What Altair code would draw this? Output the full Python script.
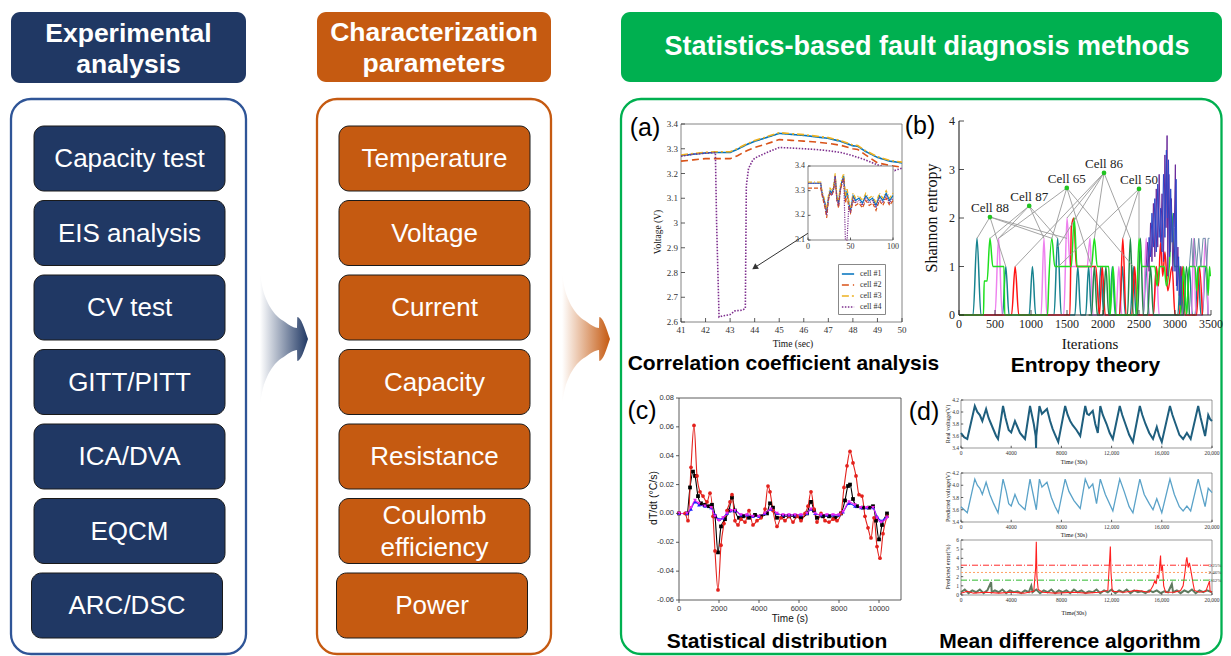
import altair as alt
import pandas as pd

W, H = 1215, 648
SANS = "Liberation Sans, Arial, Helvetica, sans-serif"
SERIF = "Liberation Serif, Times New Roman, serif"
NAVY, NAVY_EDGE, ORANGE, GREEN = "#203864", "#2f5597", "#c55a11", "#00b050"

# ======================= diagram text =======================
left_title = "Experimental\nanalysis"
mid_title = "Characterization\nparameters"
right_title = "Statistics-based fault diagnosis methods"
left_items = ["Capacity test", "EIS analysis", "CV test", "GITT/PITT", "ICA/DVA", "EQCM", "ARC/DSC"]
mid_items = ["Temperature", "Voltage", "Current", "Capacity", "Resistance", "Coulomb\nefficiency", "Power"]
captions = ["Correlation coefficient analysis", "Entropy theory", "Statistical distribution", "Mean difference algorithm"]
panel_tags = ["(a)", "(b)", "(c)", "(d)"]
axis_titles = [
    ("Time (sec)", 793, 344, "serif", 9.5, False),
    ("Voltage (V)", 658, 232, "serif", 9.5, True),
    ("Iterations", 1090, 344, "serif", 15, False),
    ("Shannon entropy", 932, 218, "serif", 16, True),
    ("Time (s)", 790, 619, "sans", 10, False),
    ("dT/dt (°C/s)", 654, 498, "sans", 10.5, True),
    ("Time (30s)", 1074, 462, "serif", 6, False),
    ("Real voltage(V)", 948, 424, "serif", 6, True),
    ("Time (30s)", 1074, 535, "serif", 6, False),
    ("Predicted voltage(V)", 948, 497, "serif", 6, True),
    ("Time(30s)", 1074, 613, "serif", 6, False),
    ("Predicted error(%)", 948, 567, "serif", 6, True),
]

# ======================= panel (a) =======================
a_cells = ["cell #1", "cell #2", "cell #3", "cell #4"]
a_colors = ["#0072bd", "#d95319", "#edb120", "#7e2f8e"]
a_dashes = [[1, 0], [7, 4], [7, 3, 2, 3], [1.5, 1.5]]
a_t = [41, 41.5, 42, 42.4, 42.5, 42.6, 43, 43.3, 43.6, 43.7, 43.8, 44, 44.5, 45, 45.5, 46, 46.5, 47, 47.5, 48, 48.2, 48.5, 49, 49.5, 50]
a_c1 = [3.272, 3.278, 3.283, 3.285, 3.285, 3.285, 3.285, 3.298, 3.313, 3.318, 3.322, 3.33, 3.346, 3.362, 3.358, 3.354, 3.348, 3.342, 3.33, 3.312, 3.31, 3.29, 3.265, 3.25, 3.243]
a_c2 = [3.25, 3.255, 3.26, 3.26, 3.26, 3.26, 3.26, 3.272, 3.288, 3.293, 3.297, 3.305, 3.32, 3.337, 3.334, 3.331, 3.327, 3.322, 3.314, 3.3, 3.297, 3.276, 3.243, 3.233, 3.225]
a_c3 = [3.275, 3.281, 3.286, 3.288, 3.288, 3.288, 3.288, 3.301, 3.316, 3.321, 3.325, 3.333, 3.349, 3.365, 3.361, 3.357, 3.351, 3.345, 3.333, 3.315, 3.313, 3.293, 3.268, 3.253, 3.246]
a_t4 = [41, 41.5, 42, 42.4, 42.45, 42.55, 42.7, 43, 43.2, 43.5, 43.62, 43.66, 43.75, 43.9, 44, 44.5, 45, 45.5, 46, 46.5, 47, 47.5, 48, 48.5, 49, 49.5, 49.7, 50]
a_c4 = [3.27, 3.278, 3.282, 3.285, 3.0, 2.62, 2.625, 2.63, 2.645, 2.648, 2.655, 3.15, 3.22, 3.25, 3.262, 3.285, 3.305, 3.303, 3.3, 3.297, 3.292, 3.285, 3.272, 3.255, 3.235, 3.22, 3.212, 3.222]
a_xticks = [41, 42, 43, 44, 45, 46, 47, 48, 49, 50]
a_xlabels = ["41", "42", "43", "44", "45", "46", "47", "48", "49", "50"]
a_yticks = [2.6, 2.7, 2.8, 2.9, 3.0, 3.1, 3.2, 3.3, 3.4]
a_ylabels = ["2.6", "2.7", "2.8", "2.9", "3", "3.1", "3.2", "3.3", "3.4"]
in_t = [0, 5, 10, 15, 16, 18, 20, 22, 24, 26, 28, 30, 32, 34, 36, 38, 40, 42, 44, 46, 48, 50, 53, 56, 60, 64, 68, 72, 76, 80, 84, 88, 92, 96, 100]
in_c1 = [3.33, 3.33, 3.33, 3.33, 3.30, 3.27, 3.25, 3.21, 3.27, 3.30, 3.29, 3.31, 3.36, 3.27, 3.25, 3.31, 3.34, 3.36, 3.27, 3.30, 3.25, 3.22, 3.28, 3.26, 3.27, 3.25, 3.28, 3.26, 3.27, 3.24, 3.28, 3.26, 3.29, 3.26, 3.28]
in_c2 = [3.31, 3.31, 3.31, 3.31, 3.29, 3.26, 3.23, 3.19, 3.26, 3.29, 3.28, 3.30, 3.35, 3.26, 3.23, 3.30, 3.33, 3.35, 3.25, 3.28, 3.23, 3.21, 3.26, 3.24, 3.25, 3.23, 3.26, 3.24, 3.25, 3.22, 3.26, 3.24, 3.27, 3.24, 3.26]
in_c3 = [3.335, 3.335, 3.335, 3.335, 3.31, 3.28, 3.26, 3.22, 3.28, 3.31, 3.30, 3.32, 3.37, 3.28, 3.26, 3.32, 3.35, 3.37, 3.28, 3.31, 3.26, 3.23, 3.29, 3.27, 3.28, 3.26, 3.29, 3.27, 3.28, 3.25, 3.29, 3.27, 3.30, 3.27, 3.29]
in_c4 = [3.33, 3.33, 3.33, 3.33, 3.30, 3.27, 3.24, 3.20, 3.27, 3.29, 3.28, 3.30, 3.36, 3.26, 3.24, 3.30, 3.33, 3.35, 3.10, 3.10, 3.24, 3.21, 3.27, 3.25, 3.26, 3.24, 3.27, 3.25, 3.26, 3.23, 3.27, 3.25, 3.28, 3.25, 3.27]
in_xticks, in_xlabels = [0, 50, 100], ["0", "50", "100"]
in_yticks, in_ylabels = [3.1, 3.2, 3.3, 3.4], ["3.1", "3.2", "3.3", "3.4"]
a_arrow = {"t0": 47.6, "v0": 3.05, "t1": 44.0, "v1": 2.82}

# ======================= panel (b) =======================
b_teal = [(0, 0), (195, 0), (250, 1.58), (305, 0), (605, 0), (650, 1.0), (695, 0), (975, 0), (1020, 1.0), (1065, 0),
          (1320, 0), (1370, 1.58), (1420, 0), (1610, 0), (1650, 1.0), (1690, 0), (1760, 0), (1800, 1.0), (1840, 0),
          (1930, 0), (1970, 1.0), (2010, 0), (2090, 0), (2130, 1.0), (2170, 0), (2230, 0), (2270, 1.0), (2310, 0),
          (2380, 0), (2420, 1.0), (2460, 0), (2560, 0), (2600, 1.0), (2640, 0), (3040, 0), (3080, 1.0), (3120, 0),
          (3160, 0), (3200, 1.0), (3240, 0), (3280, 0), (3320, 1.0), (3360, 0), (3380, 0), (3420, 1.0), (3460, 0)]
b_green = [(0, 0), (340, 0), (350, 0.7), (390, 0.7), (430, 1.58), (470, 1.0), (625, 1.0), (635, 0), (1230, 0),
           (1245, 0.6), (1290, 1.58), (1330, 1.0), (1560, 1.0), (1600, 2.0), (1640, 1.0), (1840, 1.0), (1880, 1.58),
           (1920, 1.0), (2080, 1.0), (2100, 0), (2140, 1.0), (2180, 0), (2460, 0), (2500, 1.58), (2540, 1.0),
           (2720, 1.0), (2750, 0.6), (2790, 1.0), (2850, 1.0), (2880, 0.6), (2920, 1.0), (2960, 2.1), (2990, 1.0),
           (3060, 1.0), (3080, 0), (3120, 1.0), (3160, 0), (3200, 1.0), (3280, 1.0), (3300, 0.5), (3330, 1.0),
           (3440, 1.0), (3460, 0.4), (3480, 1.0), (3490, 0.8)]
b_violet = [(0, 0), (500, 0), (550, 1.58), (600, 0), (1140, 0), (1180, 1.58), (1220, 0), (1455, 0), (1500, 2.0),
            (1545, 1.0), (1780, 1.0), (1820, 1.58), (1860, 0), (2180, 0), (2220, 1.0), (2260, 0), (2560, 0),
            (2600, 1.58), (2640, 0), (2700, 0), (2740, 1.0), (2780, 0), (3230, 0), (3260, 1.58), (3290, 0),
            (3380, 0), (3420, 1.58), (3460, 0)]
b_red = [(0, 0), (730, 0), (780, 1.0), (830, 0), (1540, 0), (1560, 1.8), (1595, 2.0), (1630, 1.0), (1900, 1.0),
         (1950, 0), (1990, 1.0), (2030, 0), (2230, 0), (2275, 1.58), (2320, 0), (2400, 0), (2440, 1.0), (2480, 0),
         (2700, 0), (2740, 1.0), (2770, 0.6), (2800, 1.5), (2830, 0.8), (2860, 1.3), (2900, 0.5), (2960, 1.0),
         (3000, 0), (3060, 0), (3100, 1.0), (3140, 0), (3300, 0), (3340, 1.0), (3380, 0)]
b_dkgreen = [(1800, 0), (1840, 0), (1880, 1.0), (1920, 0), (2000, 0), (2040, 1.0), (2080, 0), (2340, 0), (2380, 1.58),
             (2420, 0), (2480, 0), (2520, 1.58), (2560, 0), (2620, 0), (2660, 1.0), (2700, 0), (3120, 0), (3160, 1.0),
             (3200, 0)]
b_purple = [(2600, 1.0), (2620, 1.5), (2640, 0.9), (2660, 1.9), (2680, 1.1), (2700, 2.3), (2720, 1.2), (2740, 2.6),
            (2760, 1.4), (2780, 2.9), (2800, 1.5), (2820, 2.5), (2840, 1.1), (2860, 3.3), (2875, 1.8), (2890, 3.7),
            (2900, 0.8), (2915, 2.9), (2930, 1.3), (2950, 2.4), (2970, 0.9), (2990, 1.8), (3005, 3.1), (3020, 0.6),
            (3040, 1.4), (3060, 0.4), (3080, 1.0), (3100, 0.0)]
b_blue = [(2620, 1.0), (2640, 1.6), (2660, 1.2), (2680, 2.1), (2700, 1.4), (2720, 2.4), (2740, 1.3), (2760, 2.7),
          (2780, 1.6), (2800, 2.2), (2820, 1.3), (2840, 2.9), (2860, 1.6), (2880, 3.4), (2895, 2.0), (2910, 3.2),
          (2925, 1.2), (2940, 2.6), (2960, 1.5), (2980, 2.1), (3000, 0.9), (3015, 2.8), (3030, 0.5), (3050, 1.2),
          (3070, 0.2), (3090, 0.8)]
b_steel = [(3200, 1.0), (3230, 1.58), (3250, 1.0), (3270, 1.58), (3300, 1.0), (3330, 1.58), (3360, 1.0),
           (3390, 1.58), (3420, 1.58), (3440, 1.0), (3460, 1.58), (3480, 1.58)]
b_cells = [("Cell 88", 430, 2.02), ("Cell 87", 975, 2.25), ("Cell 65", 1497, 2.62), ("Cell 86", 2014, 2.93), ("Cell 50", 2500, 2.6)]
b_links = [("Cell 88", 250, 1.58), ("Cell 88", 650, 1.0), ("Cell 88", 1290, 1.58), ("Cell 88", 1500, 1.58),
           ("Cell 87", 430, 1.58), ("Cell 87", 550, 1.58), ("Cell 87", 1180, 1.58), ("Cell 87", 1370, 1.58),
           ("Cell 65", 550, 1.58), ("Cell 65", 1290, 1.58), ("Cell 65", 1840, 1.0), ("Cell 65", 2420, 1.0),
           ("Cell 86", 780, 1.0), ("Cell 86", 1370, 1.4), ("Cell 86", 1500, 2.0), ("Cell 86", 1880, 1.58), ("Cell 86", 2380, 1.58),
           ("Cell 50", 1380, 1.0), ("Cell 50", 2275, 1.58), ("Cell 50", 2500, 1.58)]
b_xticks = [0, 500, 1000, 1500, 2000, 2500, 3000, 3500]
b_xlabels = ["0", "500", "1000", "1500", "2000", "2500", "3000", "3500"]
b_yticks, b_ylabels = [0, 1, 2, 3, 4], ["0", "1", "2", "3", "4"]

# ======================= panel (c) =======================
c_cells = ["cell1", "cell2", "cell3", "cell4"]
c_colors = ["#000000", "#e3211c", "#1f1fff", "#ee22ee"]
c_shapes = ["square", "circle", "triangle-up", "triangle-down"]
c_t1 = [0, 400, 550, 700, 800, 950, 1100, 1300, 1500, 1650, 1800, 1950, 2100, 2300, 2500, 2650, 2800, 3000, 3200, 3500,
        3800, 4100, 4400, 4550, 4700, 4900, 5200, 5500, 5800, 6100, 6400, 6600, 6750, 6900, 7200, 7500, 7800, 8100, 8300, 8450,
        8550, 8700, 8900, 9200, 9500, 9700, 9850, 10000, 10150, 10400]
c_v1 = [0, 0, 0.018, 0.029, 0.026, 0.012, 0.007, 0.006, 0.005, 0.006, -0.002, -0.027, -0.009, -0.004, 0.002, 0.011, 0.002, -0.003, -0.002, -0.003,
        -0.001, -0.002, 0.0, 0.007, 0.004, -0.003, -0.002, -0.002, -0.002, -0.003, 0.0, 0.008, 0.002, -0.003, -0.002, -0.002, -0.003, 0.0, 0.009, 0.019,
        0.02, 0.01, 0.005, 0.004, 0.004, 0.005, -0.005, -0.018, -0.008, 0.0]
c_t2 = [0, 300, 450, 600, 750, 900, 1050, 1200, 1400, 1550, 1700, 1800, 1950, 2100, 2250, 2400, 2550, 2650, 2800, 2950,
        3100, 3300, 3500, 3700, 3900, 4100, 4300, 4450, 4550, 4700, 4900, 5100, 5300, 5500, 5700, 5900, 6100, 6300, 6450, 6600,
        6750, 6900, 7100, 7300, 7500, 7700, 7900, 8100, 8250, 8400, 8550, 8700, 8850, 9000, 9150, 9300, 9450, 9600, 9750, 9900,
        10050, 10200, 10400]
c_v2 = [0, 0, -0.005, 0.032, 0.061, 0.026, 0.015, 0.012, 0.008, 0.014, -0.002, -0.026, -0.053, -0.022, -0.007, 0.002, 0.008, 0.013, -0.005, -0.008,
        -0.004, -0.006, 0.002, -0.008, -0.005, -0.003, 0.003, 0.019, 0.015, 0.002, -0.009, -0.003, -0.005, -0.002, -0.006, -0.002, -0.005, 0.0, 0.005, 0.015,
        0.003, -0.006, 0.0, -0.005, -0.006, -0.004, -0.005, 0.0, 0.018, 0.033, 0.043, 0.035, 0.026, 0.013, 0.012, -0.002, -0.01, -0.017, -0.003, -0.023,
        -0.031, -0.014, -0.002]
c_t34 = [0, 400, 600, 800, 1000, 1300, 1600, 1800, 2000, 2200, 2400, 2600, 2800, 3100, 3400, 3700, 4000, 4300, 4600, 4900,
         5200, 5500, 5800, 6100, 6400, 6600, 6800, 7100, 7400, 7700, 8000, 8200, 8500, 8800, 9100, 9400, 9700, 9900, 10100, 10400]
c_v3 = [0, 0, 0.003, 0.008, 0.006, 0.005, 0.004, -0.001, -0.004, -0.003, 0.0, 0.002, 0.002, -0.001, -0.001, -0.002, -0.002, 0.0, 0.003, 0.0,
        -0.001, -0.001, -0.001, -0.001, 0.0, 0.003, 0.0, -0.001, -0.001, -0.001, -0.001, 0.001, 0.007, 0.005, 0.004, 0.004, 0.004, -0.002, -0.005, -0.002]
c_v4 = [0, 0, 0.004, 0.009, 0.007, 0.005, 0.004, -0.002, -0.005, -0.003, 0.0, 0.002, 0.002, -0.001, -0.001, -0.002, -0.002, 0.0, 0.003, 0.0,
        -0.001, -0.001, -0.001, -0.001, 0.0, 0.003, 0.0, -0.001, -0.001, -0.001, -0.001, 0.001, 0.008, 0.006, 0.004, 0.004, 0.004, -0.003, -0.006, -0.003]
c_xticks = [0, 2000, 4000, 6000, 8000, 10000]
c_xlabels = ["0", "2000", "4000", "6000", "8000", "10000"]
c_yticks = [-0.06, -0.04, -0.02, 0.0, 0.02, 0.04, 0.06, 0.08]
c_ylabels = ["-0.06", "-0.04", "-0.02", "0.00", "0.02", "0.04", "0.06", "0.08"]

# ======================= panel (d) =======================
d_real = [(0, 3.65), (250, 3.58), (500, 3.55), (1100, 4.1), (1300, 4.0), (1500, 3.95), (1700, 3.85), (2000, 4.05), (2200, 3.9),
          (2400, 3.8), (2600, 3.7), (2800, 3.6), (2950, 3.55), (3350, 4.1), (3550, 3.9), (3800, 3.7), (4000, 3.66), (4300, 3.85),
          (4500, 3.75), (4700, 3.65), (4900, 3.6), (5100, 3.55), (5500, 4.1), (5650, 3.95), (5800, 3.8), (5950, 3.6), (5980, 3.4),
          (6000, 3.6), (6250, 4.1), (6450, 3.97), (6600, 4.0), (6850, 4.05), (7100, 3.85), (7300, 3.72), (7500, 3.62), (7750, 3.5),
          (8300, 4.1), (8500, 3.95), (8700, 3.85), (8900, 3.78), (9200, 3.7), (9500, 3.6), (9900, 4.1), (10050, 3.97), (10200, 3.95),
          (10500, 4.02), (10700, 3.8), (10900, 3.65), (11100, 4.1), (11300, 3.95), (11600, 3.8), (11850, 3.65), (12100, 3.55),
          (12650, 4.1), (12850, 3.95), (13100, 3.8), (13400, 3.62), (13700, 3.5), (14250, 4.1), (14450, 3.95), (14700, 3.8),
          (15000, 3.65), (15300, 3.55), (15600, 3.75), (15800, 3.6), (16000, 3.5), (16650, 4.1), (16850, 3.95), (17100, 3.8),
          (17400, 3.62), (17700, 3.55), (18000, 3.65), (18300, 3.55), (18900, 4.1), (19100, 3.9), (19450, 3.6), (19700, 3.95),
          (19850, 3.88), (20000, 3.85)]
d_pred = [(0, 3.65), (250, 3.6), (500, 3.55), (1100, 4.1), (1300, 4.0), (1500, 3.95), (1700, 3.85), (2000, 4.05), (2300, 3.85),
          (2600, 3.7), (2950, 3.55), (3350, 4.1), (3600, 3.9), (3800, 3.7), (4000, 3.66), (4300, 3.85), (4600, 3.7), (5100, 3.6),
          (5500, 4.1), (5800, 3.8), (5950, 3.65), (6000, 3.6), (6250, 4.1), (6450, 3.97), (6600, 4.0), (6850, 4.05), (7200, 3.8),
          (7500, 3.65), (7750, 3.55), (8300, 4.1), (8600, 3.9), (9000, 3.75), (9500, 3.62), (9900, 4.1), (10200, 3.95), (10500, 4.02),
          (10800, 3.7), (11100, 4.1), (11500, 3.85), (12100, 3.58), (12650, 4.1), (13000, 3.9), (13400, 3.65), (13700, 3.55),
          (14250, 4.1), (14600, 3.85), (15000, 3.7), (15300, 3.6), (15600, 3.78), (16000, 3.55), (16650, 4.1), (17000, 3.85),
          (17400, 3.65), (17700, 3.58), (18000, 3.66), (18300, 3.58), (18900, 4.1), (19200, 3.85), (19450, 3.65), (19700, 3.95),
          (20000, 3.88)]
d_err_base = [(0, 0.3), (300, 0.6), (600, 0.2), (900, 0.5), (1200, 0.3), (1500, 0.6), (1800, 0.2), (2100, 0.5), (2400, 1.4),
              (2450, 0.3), (2700, 0.5), (3000, 0.3), (3300, 0.6), (3600, 0.2), (3900, 0.5), (4200, 0.3), (4500, 0.4), (4800, 0.2),
              (5100, 0.5), (5400, 0.3), (5600, 1.0), (5700, 0.3), (6000, 0.6), (6300, 0.2), (6600, 0.5), (6900, 0.3), (7200, 0.6),
              (7500, 0.2), (7800, 0.5), (8100, 0.3), (8400, 0.5), (8700, 0.2), (9000, 0.6), (9300, 0.3), (9600, 0.5), (9900, 0.2),
              (10200, 0.4), (10500, 0.3), (10800, 0.6), (11100, 0.2), (11400, 0.5), (11700, 0.3), (12000, 0.6), (12300, 0.2),
              (12600, 0.5), (12900, 0.3), (13200, 0.6), (13500, 0.2), (13800, 0.5), (14100, 0.3), (14400, 0.4), (14700, 0.2),
              (15000, 0.5), (15300, 0.3), (15600, 0.5), (15900, 0.2), (16200, 0.4), (16500, 0.3), (16800, 1.2), (16900, 0.3),
              (17200, 0.5), (17500, 0.2), (17800, 0.5), (18100, 0.3), (18400, 0.6), (18700, 0.2), (19000, 0.5), (19300, 0.3),
              (19600, 0.5), (20000, 0.3)]
d_err_red = [(0, 0.2), (500, 0.4), (1000, 0.2), (2000, 0.3), (3000, 0.2), (4000, 0.3), (5000, 0.2), (5800, 0.4), (5950, 3.0),
             (6000, 5.8), (6050, 2.0), (6150, 0.6), (6500, 0.3), (7500, 0.2), (9000, 0.3), (10000, 0.2), (11000, 0.3),
             (11700, 0.5), (11850, 4.0), (11900, 5.3), (11950, 2.5), (12050, 0.4), (13000, 0.3), (14000, 0.5), (15000, 0.3),
             (15300, 1.0), (15450, 1.6), (15550, 1.2), (15650, 2.2), (15750, 1.8), (15850, 3.5), (15900, 4.3), (15950, 2.6),
             (16050, 3.2), (16150, 1.0), (16300, 0.3), (17000, 0.3), (17500, 0.5), (17700, 1.0), (17850, 2.5), (17950, 3.8),
             (18000, 4.1), (18100, 3.0), (18200, 3.5), (18300, 2.8), (18400, 2.0), (18500, 1.2), (18600, 0.5), (19000, 0.3),
             (19500, 0.4), (19800, 1.5), (19850, 0.4), (20000, 0.3)]
d_limits = [3.25, 2.46, 1.62]
d_limit_labels = ["3.25%", "2.46%", "1.62%"]
d_limit_colors = ["#ff2a2a", "#ffa060", "#2db82d"]
d_limit_dash = [[6, 2, 1, 2], [2, 2], [6, 2, 1, 2]]
d_xticks = [0, 4000, 8000, 12000, 16000, 20000]
d_xlabels = ["0", "4000", "8000", "12,000", "16,000", "20,000"]
d_vticks, d_vlabels = [3.4, 3.6, 3.8, 4.0, 4.2], ["3.4", "3.6", "3.8", "4.0", "4.2"]
d_eticks, d_elabels = [0, 1, 2, 3, 4, 5, 6], ["0", "1", "2", "3", "4", "5", "6"]


# ======================= helpers =======================
def sc(domain, p0, p1):
    """Scale whose range is given in page pixels (chart origin is page pixel 8,8)."""
    return alt.Scale(domain=domain, range=[p0 - 8, p1 - 8], nice=False, zero=False)


def cxs():
    return sc([8, 1223], 8, 1223)


def cys():
    return sc([8, 656], 8, 656)


def frame(x0, x1, y0, y1, xs, ys, color="#444", width=0.8, fill=None):
    df = pd.DataFrame({"x1": [x0], "x2": [x1], "y1": [y0], "y2": [y1]})
    if fill:
        mk = dict(filled=True, fill=fill, stroke=color, strokeWidth=width)
    else:
        mk = dict(filled=False, stroke=color, strokeWidth=width)
    return alt.Chart(df).mark_rect(**mk).encode(
        x=alt.X("x1:Q", scale=xs, axis=None), x2="x2:Q",
        y=alt.Y("y1:Q", scale=ys, axis=None), y2="y2:Q")


def x_axis(vals, labels, xs, ys, ybase, font, fsize, tick_size, inward=True, gap=3, color="#222"):
    df = pd.DataFrame({"v": vals, "b": [ybase] * len(vals), "t": labels})
    enc = dict(x=alt.X("v:Q", scale=xs, axis=None), y=alt.Y("b:Q", scale=ys, axis=None))
    ticks = alt.Chart(df).mark_point(shape="M0,0V-1" if inward else "M0,0V1", filled=False, size=tick_size,
                                     color=color, strokeWidth=0.8, opacity=1).encode(**enc)
    labs = alt.Chart(df).mark_text(font=font, fontSize=fsize, baseline="top", dy=gap, color=color).encode(text="t:N", **enc)
    return [ticks, labs]


def y_axis(vals, labels, xs, ys, xbase, font, fsize, tick_size, inward=True, gap=3, color="#222"):
    df = pd.DataFrame({"v": vals, "b": [xbase] * len(vals), "t": labels})
    enc = dict(x=alt.X("b:Q", scale=xs, axis=None), y=alt.Y("v:Q", scale=ys, axis=None))
    ticks = alt.Chart(df).mark_point(shape="M0,0H1" if inward else "M0,0H-1", filled=False, size=tick_size,
                                     color=color, strokeWidth=0.8, opacity=1).encode(**enc)
    labs = alt.Chart(df).mark_text(font=font, fontSize=fsize, align="right", baseline="middle", dx=-gap,
                                   color=color).encode(text="t:N", **enc)
    return [ticks, labs]


def pairs_df(series):
    rows = []
    for name, col, pts in series:
        for x, y in pts:
            rows.append({"s": name, "c": col, "x": x, "y": y})
    return pd.DataFrame(rows)


# ======================= canvas (diagram) =======================
item_tops = [126, 200.5, 275, 349.5, 424, 498.5, 573]
box_rows = []
for i, (l, m) in enumerate(zip(left_items, mid_items)):
    top = item_tops[i]
    sh = 2.5 if i == len(left_items) - 1 else 0
    box_rows.append(dict(x1=34 - sh, x2=225 - sh, y1=top, y2=top + 65, c=NAVY, t=l, tx=129.5 - sh, ty=top + 33))
    m_ty = top + 17 if "\n" in m else top + 33
    box_rows.append(dict(x1=339 - sh, x2=530 - sh, y1=top, y2=top + 65, c=ORANGE, t=m, tx=434.5 - sh, ty=m_ty))
boxes_df = pd.DataFrame(box_rows)

title_df = pd.DataFrame([
    dict(x1=11, x2=246, y1=12, y2=83, c=NAVY, t=left_title, tx=128.5, ty=33.5, fs=26.5),
    dict(x1=317, x2=551, y1=12, y2=82, c=ORANGE, t=mid_title, tx=434, ty=32.5, fs=26.5),
    dict(x1=621, x2=1222, y1=12, y2=82, c=GREEN, t=right_title, tx=927, ty=47, fs=27),
])
frame_df = pd.DataFrame([
    dict(x1=11, x2=246, y1=99, y2=654, c=NAVY_EDGE),
    dict(x1=317, x2=551, y1=99, y2=654, c=ORANGE),
    dict(x1=621, x2=1221.5, y1=99, y2=654, c=GREEN),
])
caption_df = pd.DataFrame({"t": captions, "tx": [783.5, 1085.5, 777, 1070], "ty": [364, 366, 642, 642]})
tag_df = pd.DataFrame({"t": panel_tags, "tx": [645, 920, 642, 924], "ty": [128, 126, 411, 412]})
at_df = pd.DataFrame(axis_titles, columns=["t", "tx", "ty", "f", "fs", "rot"])


def rect_layer(df, **mk):
    return alt.Chart(df).mark_rect(**mk).encode(
        x=alt.X("x1:Q", scale=cxs(), axis=None), x2="x2:Q",
        y=alt.Y("y1:Q", scale=cys(), axis=None), y2="y2:Q",
        color=alt.Color("c:N", scale=None, legend=None))


def text_layer(df, **mk):
    return alt.Chart(df).mark_text(baseline="middle", align="center", lineBreak="\n", **mk).encode(
        x=alt.X("tx:Q", scale=cxs(), axis=None),
        y=alt.Y("ty:Q", scale=cys(), axis=None),
        text="t:N")


def axis_title_layer(font_key, font, rot):
    sub = at_df[(at_df["f"] == font_key) & (at_df["rot"] == rot)]
    mk = dict(font=font, color="#111")
    if rot:
        mk["angle"] = 270
    return text_layer(sub, **mk).encode(size=alt.Size("fs:Q", scale=None))


arrow_x = [260, 263, 267, 272, 278, 285, 291, 297, 297.3, 308]
arrow_top = [275, 290, 301, 310, 317, 322, 326, 328, 317, 339]
arrow_bot = [403, 388, 377, 368, 361, 356, 352, 350, 361, 339]


def arrow_layer(dx, col):
    df = pd.DataFrame({"x": [v + dx for v in arrow_x], "y": arrow_top, "y2": arrow_bot})
    grad = alt.LinearGradient(gradient="linear",
                              stops=[alt.GradientStop(color="#ffffff", offset=0),
                                     alt.GradientStop(color=col, offset=1)],
                              x1=0, x2=1, y1=0, y2=0)
    return alt.Chart(df).mark_area(color=grad, opacity=1, interpolate="monotone").encode(
        x=alt.X("x:Q", scale=cxs(), axis=None),
        y=alt.Y("y:Q", scale=cys(), axis=None), y2="y2:Q")


canvas = alt.layer(
    rect_layer(title_df, cornerRadius=9),
    rect_layer(frame_df, filled=False, strokeWidth=2.3, cornerRadius=20),
    rect_layer(boxes_df, cornerRadius=10, stroke="#1a1a1a", strokeWidth=1),
    text_layer(title_df, font=SANS, fontWeight="bold", color="white", lineHeight=31.5).encode(size=alt.Size("fs:Q", scale=None)),
    text_layer(boxes_df, font=SANS, fontSize=26, color="white", lineHeight=32),
    arrow_layer(0, NAVY),
    arrow_layer(302, ORANGE),
    text_layer(caption_df, font=SANS, fontSize=21, fontWeight="bold", color="black"),
    text_layer(tag_df, font=SANS, fontSize=25, color="black"),
    axis_title_layer("serif", SERIF, False),
    axis_title_layer("serif", SERIF, True),
    axis_title_layer("sans", SANS, False),
    axis_title_layer("sans", SANS, True),
)

# ======================= panel (a) =======================
A_X = sc([41, 50], 681, 902)
A_Y = sc([2.6, 3.4], 322, 124)
rows = []
for name, ts, vs in [("cell #1", a_t, a_c1), ("cell #2", a_t, a_c2), ("cell #3", a_t, a_c3), ("cell #4", a_t4, a_c4)]:
    for t, v in zip(ts, vs):
        rows.append({"s": name, "x": t, "y": v})
a_df = pd.DataFrame(rows)
leg_a = alt.Legend(orient="none", legendX=830, legendY=256, title=None, strokeColor="#888", fillColor="white",
                   padding=3, symbolType="stroke", symbolStrokeWidth=1.6, symbolSize=150, labelFont=SERIF,
                   labelFontSize=8, labelColor="#333", rowPadding=-1, labelOffset=5)
a_lines = alt.Chart(a_df).mark_line(strokeWidth=1.6).encode(
    x=alt.X("x:Q", scale=A_X, axis=None),
    y=alt.Y("y:Q", scale=A_Y, axis=None),
    color=alt.Color("s:N", scale=alt.Scale(domain=a_cells, range=a_colors), legend=leg_a),
    strokeDash=alt.StrokeDash("s:N", scale=alt.Scale(domain=a_cells, range=a_dashes), legend=leg_a),
)
arr_df = pd.DataFrame([a_arrow])
a_arrow_line = alt.Chart(arr_df).mark_rule(color="#333", strokeWidth=1).encode(
    x=alt.X("t0:Q", scale=A_X, axis=None), x2="t1:Q",
    y=alt.Y("v0:Q", scale=A_Y, axis=None), y2="v1:Q")
a_arrow_head = alt.Chart(arr_df).mark_point(shape="triangle-up", angle=236.6, filled=True, size=45,
                                            color="#333", opacity=1).encode(
    x=alt.X("t1:Q", scale=A_X, axis=None), y=alt.Y("v1:Q", scale=A_Y, axis=None))
panel_a = alt.layer(
    frame(41, 50, 2.6, 3.4, A_X, A_Y, color="#666"), a_lines, a_arrow_line, a_arrow_head,
    *x_axis(a_xticks, a_xlabels, A_X, A_Y, 2.6, SERIF, 9, 64, gap=4, color="#333"),
    *y_axis(a_yticks, a_ylabels, A_X, A_Y, 41, SERIF, 9, 64, gap=3, color="#333"),
)

IN_X = sc([0, 100], 808, 893)
IN_Y = sc([3.1, 3.4], 240, 166)
rows = []
for name, vs in [("cell #1", in_c1), ("cell #2", in_c2), ("cell #3", in_c3), ("cell #4", in_c4)]:
    for t, v in zip(in_t, vs):
        rows.append({"s": name, "x": t, "y": v})
in_df = pd.DataFrame(rows)
in_lines = alt.Chart(in_df).mark_line(strokeWidth=1.2).encode(
    x=alt.X("x:Q", scale=IN_X, axis=None),
    y=alt.Y("y:Q", scale=IN_Y, axis=None),
    color=alt.Color("s:N", scale=alt.Scale(domain=a_cells, range=a_colors), legend=None),
    strokeDash=alt.StrokeDash("s:N", scale=alt.Scale(domain=a_cells, range=[[1, 0], [4, 2], [4, 2, 1, 2], [1.2, 1.2]]), legend=None),
)
panel_a_inset = alt.layer(
    frame(0, 100, 3.1, 3.4, IN_X, IN_Y, color="#666", fill="white"), in_lines,
    *x_axis(in_xticks, in_xlabels, IN_X, IN_Y, 3.1, SERIF, 8, 25, gap=3, color="#333"),
    *y_axis(in_yticks, in_ylabels, IN_X, IN_Y, 0, SERIF, 8, 25, gap=3, color="#333"),
)

# ======================= panel (b) =======================
B_X = sc([0, 3500], 959, 1211)
B_Y = sc([0, 4], 315, 121)
hump_df = pairs_df([("teal", "#17838f", b_teal), ("violet", "#ee82ee", b_violet), ("red", "#ff1414", b_red),
                    ("dkgreen", "#23864a", b_dkgreen), ("green", "#1ee01e", b_green)])
noise_df = pairs_df([("steel", "#6f8fa8", b_steel), ("purple", "#6a2a9a", b_purple), ("blue", "#2a46c8", b_blue)])
b_humps = alt.Chart(hump_df).mark_line(strokeWidth=1.5, interpolate="monotone").encode(
    x=alt.X("x:Q", scale=B_X, axis=None), y=alt.Y("y:Q", scale=B_Y, axis=None),
    color=alt.Color("c:N", scale=None, legend=None), detail="s:N")
b_noise = alt.Chart(noise_df).mark_line(strokeWidth=1.0).encode(
    x=alt.X("x:Q", scale=B_X, axis=None), y=alt.Y("y:Q", scale=B_Y, axis=None),
    color=alt.Color("c:N", scale=None, legend=None), detail="s:N")
cell_pos = {n: (x, y) for n, x, y in b_cells}
link_df = pd.DataFrame([{"x0": cell_pos[n][0], "y0": cell_pos[n][1], "x1": x, "y1": y} for n, x, y in b_links])
cells_df = pd.DataFrame(b_cells, columns=["t", "x", "y"])
b_link = alt.Chart(link_df).mark_rule(color="#9a9a9a", strokeWidth=0.9).encode(
    x=alt.X("x0:Q", scale=B_X, axis=None), x2="x1:Q",
    y=alt.Y("y0:Q", scale=B_Y, axis=None), y2="y1:Q")
b_dots = alt.Chart(cells_df).mark_point(filled=True, size=22, color="#22c422", opacity=1).encode(
    x=alt.X("x:Q", scale=B_X, axis=None), y=alt.Y("y:Q", scale=B_Y, axis=None))
b_labels = alt.Chart(cells_df).mark_text(font=SERIF, fontSize=13, baseline="bottom", dy=-2, color="#222").encode(
    x=alt.X("x:Q", scale=B_X, axis=None), y=alt.Y("y:Q", scale=B_Y, axis=None), text="t:N")
b_dom_df = pd.DataFrame({"x0": [0, 0], "x1": [3500, 0], "y0": [0, 0], "y1": [0, 4]})
b_domain = alt.Chart(b_dom_df).mark_rule(color="#333", strokeWidth=1.2).encode(
    x=alt.X("x0:Q", scale=B_X, axis=None), x2="x1:Q",
    y=alt.Y("y0:Q", scale=B_Y, axis=None), y2="y1:Q")
panel_b = alt.layer(
    b_humps, b_noise, b_link, b_dots, b_labels, b_domain,
    *x_axis(b_xticks, b_xlabels, B_X, B_Y, 0, SERIF, 12, 100, gap=4, color="#222"),
    *y_axis(b_yticks, b_ylabels, B_X, B_Y, 0, SERIF, 12, 100, gap=4, color="#222"),
)

# ======================= panel (c) =======================
C_X = sc([0, 11100], 679, 901)
C_Y = sc([-0.06, 0.08], 600, 398)
rows = []
for name, ts, vs in [("cell1", c_t1, c_v1), ("cell2", c_t2, c_v2), ("cell3", c_t34, c_v3), ("cell4", c_t34, c_v4)]:
    for t, v in zip(ts, vs):
        rows.append({"s": name, "x": t, "y": v})
c_df = pd.DataFrame(rows)
c_color = alt.Scale(domain=c_cells, range=c_colors)
leg_c = alt.Legend(orient="none", legendX=850, legendY=392, title=None, padding=0, symbolSize=28,
                   labelFont=SANS, labelFontSize=8.5, labelColor="#222", rowPadding=3, labelOffset=5)
c_lines = alt.Chart(c_df).mark_line(strokeWidth=1.1, interpolate="monotone").encode(
    x=alt.X("x:Q", scale=C_X, axis=None), y=alt.Y("y:Q", scale=C_Y, axis=None),
    color=alt.Color("s:N", scale=c_color, legend=None), detail="s:N")
c_points = alt.Chart(c_df).mark_point(filled=True, size=14, opacity=1).encode(
    x=alt.X("x:Q", scale=C_X, axis=None), y=alt.Y("y:Q", scale=C_Y, axis=None),
    color=alt.Color("s:N", scale=c_color, legend=leg_c),
    shape=alt.Shape("s:N", scale=alt.Scale(domain=c_cells, range=c_shapes), legend=leg_c))
panel_c = alt.layer(
    frame(0, 11100, -0.06, 0.08, C_X, C_Y, color="#333"), c_lines, c_points,
    *x_axis(c_xticks, c_xlabels, C_X, C_Y, -0.06, SANS, 7.5, 36, inward=False, gap=5, color="#333"),
    *y_axis(c_yticks, c_ylabels, C_X, C_Y, 0, SANS, 7.5, 36, inward=False, gap=5, color="#333"),
)

# ======================= panel (d) =======================
D_X = sc([0, 20000], 961, 1212)
D1_Y = sc([3.4, 4.2], 448, 400)
D2_Y = sc([3.4, 4.2], 522, 473)
D3_Y = sc([0, 6], 595, 540)


def d_axes(yscale, ymin, yvals, ylabels):
    return (x_axis(d_xticks, d_xlabels, D_X, yscale, ymin, SERIF, 5.5, 20, gap=2.5, color="#333")
            + y_axis(yvals, ylabels, D_X, yscale, 0, SERIF, 5.5, 20, gap=2, color="#333"))


d1_line = alt.Chart(pd.DataFrame(d_real, columns=["x", "y"])).mark_line(strokeWidth=2, color="#1f5f7e").encode(
    x=alt.X("x:Q", scale=D_X, axis=None), y=alt.Y("y:Q", scale=D1_Y, axis=None))
panel_d1 = alt.layer(frame(0, 20000, 3.4, 4.2, D_X, D1_Y, color="#555", width=0.6), d1_line,
                     *d_axes(D1_Y, 3.4, d_vticks, d_vlabels))

d2_line = alt.Chart(pd.DataFrame(d_pred, columns=["x", "y"])).mark_line(strokeWidth=1.3, color="#5aa2c8").encode(
    x=alt.X("x:Q", scale=D_X, axis=None), y=alt.Y("y:Q", scale=D2_Y, axis=None))
panel_d2 = alt.layer(frame(0, 20000, 3.4, 4.2, D_X, D2_Y, color="#555", width=0.6), d2_line,
                     *d_axes(D2_Y, 3.4, d_vticks, d_vlabels))

d3_base = alt.Chart(pd.DataFrame(d_err_base, columns=["x", "y"])).mark_line(strokeWidth=2, color="#5f7a5f").encode(
    x=alt.X("x:Q", scale=D_X, axis=None), y=alt.Y("y:Q", scale=D3_Y, axis=None))
d3_red = alt.Chart(pd.DataFrame(d_err_red, columns=["x", "y"])).mark_line(strokeWidth=1.1, color="#ff2020").encode(
    x=alt.X("x:Q", scale=D_X, axis=None), y=alt.Y("y:Q", scale=D3_Y, axis=None))
lim_layers = []
for v, lab, col, dash in zip(d_limits, d_limit_labels, d_limit_colors, d_limit_dash):
    ldf = pd.DataFrame({"x0": [0], "x1": [20000], "v": [v], "t": [lab]})
    lim_layers.append(alt.Chart(ldf).mark_rule(color=col, strokeWidth=1, strokeDash=dash).encode(
        x=alt.X("x0:Q", scale=D_X, axis=None), x2="x1:Q", y=alt.Y("v:Q", scale=D3_Y, axis=None)))
    lim_layers.append(alt.Chart(ldf).mark_text(font=SERIF, fontSize=5, align="right", dx=9.5, color="#333").encode(
        x=alt.X("x1:Q", scale=D_X, axis=None), y=alt.Y("v:Q", scale=D3_Y, axis=None), text="t:N"))
panel_d3 = alt.layer(frame(0, 20000, 0, 6, D_X, D3_Y, color="#555", width=0.6), d3_base, d3_red, *lim_layers,
                     *d_axes(D3_Y, 0, d_eticks, d_elabels))

# ======================= assemble =======================
chart = alt.layer(
    canvas, panel_a, panel_a_inset, panel_b, panel_c, panel_d1, panel_d2, panel_d3
).resolve_scale(
    x="independent", y="independent", color="independent", strokeDash="independent", shape="independent",
    size="independent"
).properties(
    width=W, height=H, padding=0, autosize=alt.AutoSizeParams(type="none"), background="white"
).configure_view(stroke=None)

chart.save("out.html", embed_options={"renderer": "svg", "actions": False})
